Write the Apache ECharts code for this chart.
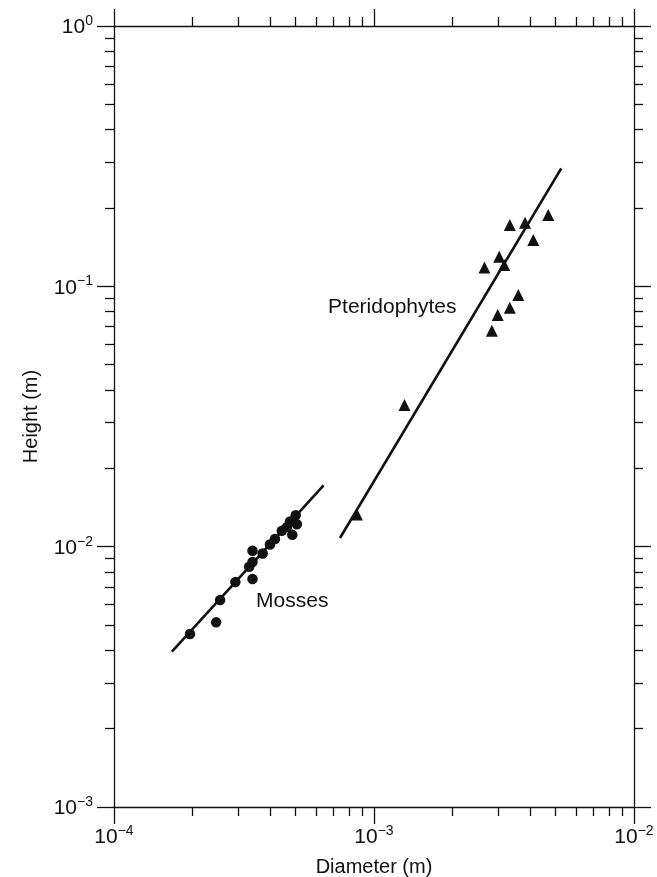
<!DOCTYPE html>
<html><head><meta charset="utf-8">
<script src="https://cdn.jsdelivr.net/npm/echarts@6/dist/echarts.min.js"></script>
<style>html,body{margin:0;padding:0;background:#fff}#c{width:657px;height:877px}</style>
</head><body><div id="c"></div>
<script>
// ---- data ----
const mossDiameter = [1.96e-4, 2.47e-4, 2.56e-4, 2.93e-4, 3.41e-4, 3.31e-4, 3.41e-4, 3.41e-4, 3.73e-4, 3.98e-4, 4.16e-4, 4.42e-4, 4.63e-4, 4.75e-4, 4.85e-4, 5.0e-4, 5.05e-4];
const mossHeight   = [4.62e-3, 5.12e-3, 6.24e-3, 7.31e-3, 7.51e-3, 8.37e-3, 8.73e-3, 9.64e-3, 9.42e-3, 1.02e-2, 1.07e-2, 1.15e-2, 1.19e-2, 1.25e-2, 1.11e-2, 1.32e-2, 1.22e-2];
const pteroDiameter = [8.6e-4, 1.31e-3, 2.66e-3, 2.84e-3, 2.99e-3, 3.03e-3, 3.17e-3, 3.33e-3, 3.33e-3, 3.59e-3, 3.81e-3, 4.10e-3, 4.68e-3];
const pteroHeight   = [0.0133, 0.035, 0.118, 0.0675, 0.0776, 0.130, 0.1207, 0.172, 0.0828, 0.0926, 0.1755, 0.1506, 0.188];
const mossFitDiameter = [1.67e-4, 6.4e-4];
const mossFitHeight   = [3.95e-3, 1.72e-2];
const pteroFitDiameter = [7.4e-4, 5.25e-3];
const pteroFitHeight   = [1.08e-2, 0.284];
const mossLabelPos  = [3.52e-4, 6.18e-3];
const pteroLabelPos = [6.66e-4, 0.0835];
const xMajorTicks = [1e-4, 1e-3, 1e-2];
const yMajorTicks = [1e-3, 1e-2, 1e-1, 1];
const xMinorTicks = [2e-4,3e-4,4e-4,5e-4,6e-4,7e-4,8e-4,9e-4,2e-3,3e-3,4e-3,5e-3,6e-3,7e-3,8e-3,9e-3];
const yMinorTicks = [2e-3,3e-3,4e-3,5e-3,6e-3,7e-3,8e-3,9e-3,2e-2,3e-2,4e-2,5e-2,6e-2,7e-2,8e-2,9e-2,0.2,0.3,0.4,0.5,0.6,0.7,0.8,0.9];
const xTitle = 'Diameter (m)';
const yTitle = 'Height (m)';

const FONT = '"Liberation Sans", Arial, Helvetica, sans-serif';
const INK = '#111111';
const lg = v => Math.log10(v);
const X0 = lg(xMajorTicks[0]), X1 = lg(xMajorTicks[xMajorTicks.length-1]);
const Y0 = lg(yMajorTicks[0]), Y1 = lg(yMajorTicks[yMajorTicks.length-1]);

function powLabel(v) {
  const e = Math.round(v);
  return '{b|10}{s|' + (e < 0 ? '\u2212' + (-e) : String(e)) + '}';
}
const rich = {
  b: {fontSize: 21, fontFamily: FONT, color: INK, lineHeight: 24, verticalAlign: 'bottom'},
  s: {fontSize: 14, fontFamily: FONT, color: INK, lineHeight: 14, verticalAlign: 'top'}
};

function tickAxis(dim, pos, values, len, withLabels, showLine) {
  const ax = {
    type: 'value', position: pos,
    min: dim === 'x' ? X0 : Y0, max: dim === 'x' ? X1 : Y1,
    axisLine: {show: showLine, onZero: false, lineStyle: {color: INK, width: 1.3}},
    axisTick: {show: true, inside: false, length: len, customValues: values.map(lg), lineStyle: {color: INK, width: 1.3}},
    splitLine: {show: false},
    axisLabel: {show: false}
  };
  if (withLabels) {
    ax.axisLabel = {show: true, customValues: values.map(lg), formatter: powLabel, rich: rich,
                    margin: dim === 'x' ? 17 : 21};
  }
  return ax;
}

const xAxes = [
  {
    type: 'log', logBase: 10, position: 'bottom',
    min: xMajorTicks[0], max: xMajorTicks[xMajorTicks.length-1],
    axisLine: {show: true, onZero: false, lineStyle: {color: INK, width: 1.3}},
    axisTick: {show: false}, axisLabel: {show: false}, splitLine: {show: false},
    name: xTitle, nameLocation: 'middle', nameGap: 50,
    nameTextStyle: {fontSize: 20, fontFamily: FONT, color: INK}
  },
  tickAxis('x', 'bottom', xMajorTicks, 17, true, false),
  tickAxis('x', 'bottom', xMinorTicks, 9, false, false),
  tickAxis('x', 'top', xMajorTicks, 17, false, true),
  tickAxis('x', 'top', xMinorTicks, 9, false, false)
];
const yAxes = [
  {
    type: 'log', logBase: 10, position: 'left',
    min: yMajorTicks[0], max: yMajorTicks[yMajorTicks.length-1],
    axisLine: {show: true, onZero: false, lineStyle: {color: INK, width: 1.3}},
    axisTick: {show: false}, axisLabel: {show: false}, splitLine: {show: false},
    name: yTitle, nameLocation: 'middle', nameGap: 73, nameRotate: 90,
    nameTextStyle: {fontSize: 20, fontFamily: FONT, color: INK}
  },
  tickAxis('y', 'left', yMajorTicks, 17, true, false),
  tickAxis('y', 'left', yMinorTicks, 9, false, false),
  tickAxis('y', 'right', yMajorTicks, 17, false, true),
  tickAxis('y', 'right', yMinorTicks, 9, false, false)
];

const zip = (a, b) => a.map((v, i) => [v, b[i]]);
const textLabel = (txt) => ({
  show: true, formatter: txt, position: 'right', distance: 0,
  fontSize: 21, fontFamily: FONT, color: INK, opacity: 1
});

const option = {
  animation: false,
  backgroundColor: '#fff',
  grid: {left: 114, right: 23, top: 26, bottom: 70, containLabel: false, outerBoundsMode: 'none'},
  xAxis: xAxes,
  yAxis: yAxes,
  series: [
    {type: 'line', data: zip(mossFitDiameter, mossFitHeight), symbol: 'none',
     lineStyle: {color: INK, width: 2.6}, z: 2},
    {type: 'line', data: zip(pteroFitDiameter, pteroFitHeight), symbol: 'none',
     lineStyle: {color: INK, width: 2.6}, z: 2},
    {type: 'scatter', data: zip(mossDiameter, mossHeight), symbol: 'circle', symbolSize: 10.5,
     itemStyle: {color: INK, opacity: 1}, z: 3},
    {type: 'scatter', data: zip(pteroDiameter, pteroHeight), symbol: 'triangle', symbolSize: 12,
     itemStyle: {color: INK, opacity: 1}, z: 3},
    {type: 'scatter', data: [mossLabelPos], symbolSize: 0, itemStyle: {opacity: 1}, label: textLabel('Mosses'), z: 4},
    {type: 'scatter', data: [pteroLabelPos], symbolSize: 0, itemStyle: {opacity: 1}, label: textLabel('Pteridophytes'), z: 4}
  ]
};
const chart = echarts.init(document.getElementById('c'), null, {renderer: 'canvas'});
chart.setOption(option);
</script></body></html>
